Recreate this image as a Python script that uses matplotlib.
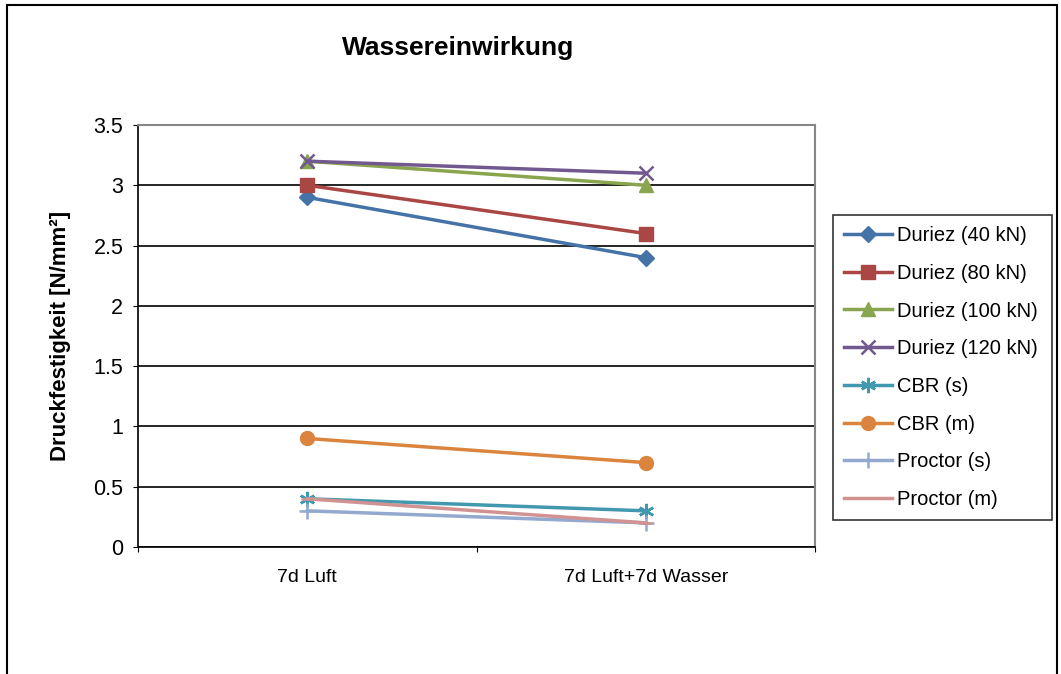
import matplotlib.pyplot as plt
from matplotlib.patches import Rectangle

plt.rcParams['font.family'] = ['Liberation Sans', 'DejaVu Sans']

# data
categories = ['7d Luft', '7d Luft+7d Wasser']
duriez_40 = [2.9, 2.4]
duriez_80 = [3.0, 2.6]
duriez_100 = [3.2, 3.0]
duriez_120 = [3.2, 3.1]
cbr_s = [0.4, 0.3]
cbr_m = [0.9, 0.7]
proctor_s = [0.3, 0.2]
proctor_m = [0.4, 0.2]

series = [
    ('Duriez (40 kN)', duriez_40, '#4572A7', 'D', 8),
    ('Duriez (80 kN)', duriez_80, '#AA4643', 's', 9.5),
    ('Duriez (100 kN)', duriez_100, '#89A54E', '^', 10),
    ('Duriez (120 kN)', duriez_120, '#71588F', 'x', 9.5),
    ('CBR (s)', cbr_s, '#4198AF', (6, 2, 0), 11),
    ('CBR (m)', cbr_m, '#DB843D', 'o', 10),
    ('Proctor (s)', proctor_s, '#93A9CF', '+', 11),
    ('Proctor (m)', proctor_m, '#D19392', '_', 9),
]

fig = plt.figure(figsize=(10.61, 6.74), dpi=100)
# outer chart frame
fig.patches.append(Rectangle((7 / 1061, -0.05), 1050 / 1061, 1.05 - 5 / 674,
                             transform=fig.transFigure, fill=False,
                             edgecolor='black', linewidth=1.5))

ax = fig.add_axes([138 / 1061, 127 / 674, 677 / 1061, 422 / 674])

x = [i + 0.5 for i in range(len(categories))]
for name, vals, col, mk, ms in series:
    mew = 1.8 if mk in ('x', '+', '_') or isinstance(mk, tuple) else 1
    ax.plot(x, vals, color=col, linewidth=2.5, marker=mk, markersize=ms,
            markeredgecolor=col, markerfacecolor=col, markeredgewidth=mew,
            label=name)

ax.set_xlim(0, 2)
ax.set_ylim(0, 3.5)
ax.set_yticks([0, 0.5, 1, 1.5, 2, 2.5, 3, 3.5])
ax.set_yticklabels(['0', '0.5', '1', '1.5', '2', '2.5', '3', '3.5'])
ax.set_xticks([0, 1, 2])
ax.set_xticklabels([])
ax.set_xticks(x, minor=True)
ax.set_xticklabels(categories, minor=True)
ax.tick_params(axis='x', which='minor', length=0, pad=16, labelsize=14)
ax.tick_params(axis='x', which='major', length=3.6, direction='out')
ax.tick_params(axis='y', length=3.6, direction='out', pad=7, labelsize=15.5)

ax.grid(axis='y', color='black', linewidth=1.2)
ax.set_axisbelow(True)
for s in ['top', 'right']:
    ax.spines[s].set_color('#868686')
    ax.spines[s].set_linewidth(1.5)
for s in ['left', 'bottom']:
    ax.spines[s].set_color('black')
    ax.spines[s].set_linewidth(1.2)

ax.set_ylabel('Druckfestigkeit [N/mm²]', fontsize=16, fontweight='bold',
              labelpad=16)
fig.text(458 / 1061, 1 - 48 / 674, 'Wassereinwirkung', fontsize=19,
         fontweight='bold', ha='center', va='center')

leg = ax.legend(loc='upper left', bbox_to_anchor=(833 / 1061, 1 - 518 / 674,
                219 / 1061, 303 / 674), bbox_transform=fig.transFigure,
                mode='expand', frameon=True, fancybox=False, fontsize=14.5,
                handlelength=2.4, labelspacing=0.93, borderaxespad=0,
                borderpad=0.55, handletextpad=0.25)
leg.get_frame().set_edgecolor('black')
leg.get_frame().set_linewidth(1.2)

fig.savefig('out.png', dpi=100)
